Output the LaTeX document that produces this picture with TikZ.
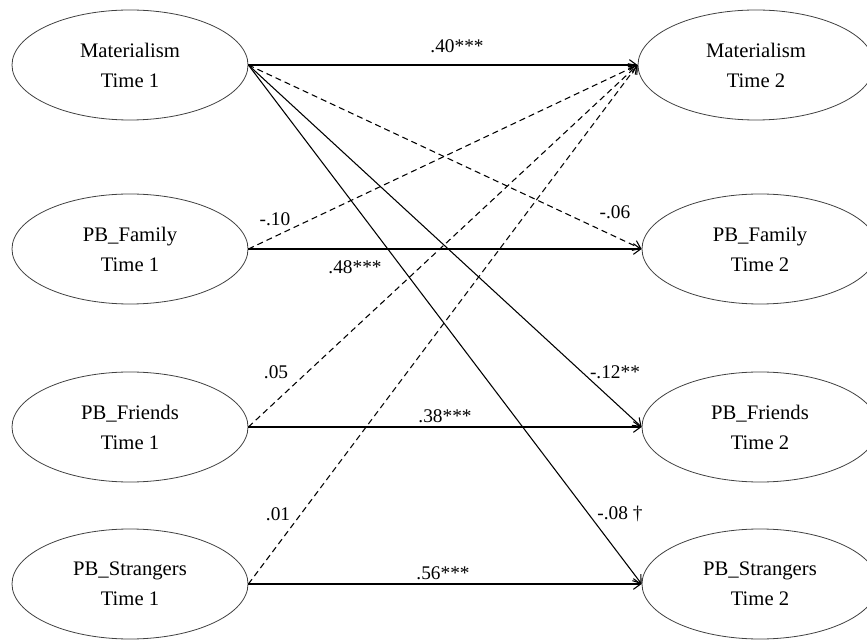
\documentclass[tikz,border=0pt]{standalone}
\usepackage{fontspec}
\setmainfont{Liberation Serif}
\usetikzlibrary{arrows.meta,shapes.geometric}

\begin{document}
\begin{tikzpicture}[x=0.75pt, y=0.75pt,
  construct/.style={ellipse, draw=black!75, line width=0.6pt, minimum width=177pt,
    minimum height=82.5pt, inner sep=0pt, align=center,
    font=\fontsize{15.5}{22.5}\selectfont},
  eff/.style={-{Straight Barb[length=5.5pt,width=8pt]}, line width=0.8pt},
  nonsig/.style={eff, dash pattern=on 4.5pt off 3pt},
  coef/.style={font=\fontsize{14.5}{17}\selectfont, inner sep=1pt}]
\useasboundingbox (0,0) rectangle (867,643);

% time 1
\node[construct] (mat1) at (130,578) {Materialism\\Time 1};
\node[construct] (fam1) at (130,394) {PB\_Family\\Time 1};
\node[construct] (fri1) at (130,216) {PB\_Friends\\Time 1};
\node[construct] (str1) at (130,59)  {PB\_Strangers\\Time 1};

% time 2
\node[construct] (mat2) at (756,578) {Materialism\\Time 2};
\node[construct] (fam2) at (760,394) {PB\_Family\\Time 2};
\node[construct] (fri2) at (760,216) {PB\_Friends\\Time 2};
\node[construct] (str2) at (760,59)  {PB\_Strangers\\Time 2};

% stability paths
\draw[eff] (mat1.east) -- (mat2.west);
\draw[eff] (fam1.east) -- (fam2.west);
\draw[eff] (fri1.east) -- (fri2.west);
\draw[eff] (str1.east) -- (str2.west);

% cross-lagged paths
\draw[nonsig] (mat1.east) -- (fam2.west);
\draw[eff]    (mat1.east) -- (fri2.west);
\draw[eff]    (mat1.east) -- (str2.west);
\draw[nonsig] (fam1.east) -- (mat2.west);
\draw[nonsig] (fri1.east) -- (mat2.west);
\draw[nonsig] (str1.east) -- (mat2.west);

% coefficients
\node[coef] (b1)  at (457,597) {.40***};
\node[coef] (b2)  at (355,376) {.48***};
\node[coef] (b3)  at (445,227) {.38***};
\node[coef] (b4)  at (443,70)  {.56***};
\node[coef] (b5)  at (615,431) {-.06};
\node[coef] (b6)  at (615,271) {-.12**};
\node[coef] (b7)  at (620,129) {-.08 †};
\node[coef] (b8)  at (275,424) {-.10};
\node[coef] (b9)  at (276,271) {.05};
\node[coef] (b10) at (278,129) {.01};
\end{tikzpicture}
\end{document}
